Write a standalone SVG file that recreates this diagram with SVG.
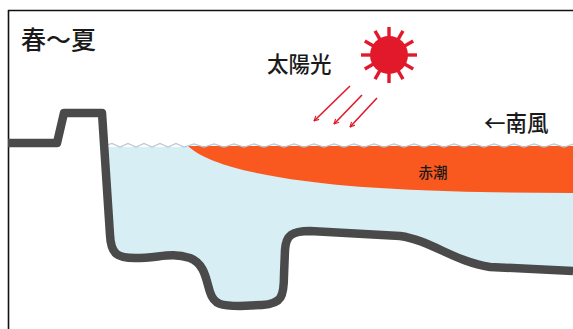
<svg xmlns="http://www.w3.org/2000/svg" width="573" height="329" viewBox="0 0 573 329">
  <style>
    .label { font-family: "Noto Sans CJK JP", "Noto Sans CJK SC", sans-serif; font-weight: 500; fill: #1a1a1a; }
    .ground { fill: none; stroke: #4a4a4a; stroke-width: 8.5; stroke-linejoin: round; stroke-linecap: butt; }
    .ray { stroke: #e2192b; stroke-width: 3.4; stroke-linecap: butt; }
    .beam { stroke: #e2192b; stroke-width: 1.6; fill: none; marker-end: url(#beamHead); }
  </style>
  <defs>
    <marker id="beamHead" viewBox="0 0 10 10" refX="9" refY="5" markerWidth="6" markerHeight="6" markerUnits="userSpaceOnUse" orient="auto">
      <path d="M1 1 L9 5 L1 9" fill="none" stroke="#e2192b" stroke-width="1.8"/>
    </marker>
  </defs>

  <rect width="573" height="329" fill="#ffffff"/>

  <!-- frame -->
  <g id="frame">
    <line x1="8" y1="10.5" x2="573" y2="10.5" stroke="#111" stroke-width="1.6"/>
    <line x1="8.5" y1="10" x2="8.5" y2="329" stroke="#111" stroke-width="1.6"/>
  </g>

  <!-- sea water -->
  <g id="water">
    <path fill="#d6eef4" d="M104 147 L573 147 L573 271 L490 267 C455 262 430 240 400 236 L310 231 C292 231 286 235 285 250 L284 275 C284 296 282 304 262 305 L240 306 C222 306 214 305 210 292 C206 280 205 264 190 258 C170 252 160 258 135 258 C118 258 111 255 110 235 L104.5 147 Z"/>
  </g>

  <!-- red tide layer -->
  <g id="red-tide">
    <path fill="#f9581e" d="M188 146 L573 146 L573 193 C470 193 370 190 305 181 C245 173 205 162 188 146 Z"/>
    <text class="label" x="433" y="178" font-size="14.5" text-anchor="middle">赤潮</text>
  </g>

  <!-- water surface ripples -->
  <g id="surface">
    <polyline fill="none" stroke="#b9c8d4" stroke-width="1.3" stroke-linejoin="miter"
      points="104,146 112,143.5 120,147 128,143.5 136,147 144,143.5 152,147 160,143.5 168,147 176,143.5 184,147 194,144 204,147 214,144 224,147 234,144 244,147 254,144 264,147 274,144 284,147 294,144 304,147 314,144 324,147 334,144 344,147 354,144 364,147 374,144 384,147 394,144 404,147 414,144 424,147 434,144 444,147 454,144 464,147 474,144 484,147 494,144 504,147 514,144 524,147 534,144 544,147 554,144 564,147 573,144"/>
  </g>

  <!-- ground / seabed profile -->
  <g id="seabed">
    <path class="ground" d="M8 143 H57 L64 113 H102 L110 235 C111 255 118 258 135 258 C160 258 170 252 190 258 C205 264 206 280 210 292 C214 305 222 306 240 306 L262 305 C282 304 284 296 284 275 L285 250 C286 235 292 231 310 231 L400 236 C430 240 455 262 490 267 L573 271"/>
  </g>

  <!-- sun -->
  <g id="sun">
    <circle cx="389" cy="55" r="19" fill="#e2192b"/>
    <g class="ray">
      <line x1="389" y1="38" x2="389" y2="27"/>
      <line x1="389" y1="72" x2="389" y2="83"/>
      <line x1="372" y1="55" x2="361" y2="55"/>
      <line x1="406" y1="55" x2="417" y2="55"/>
      <line x1="397.5" y1="40.3" x2="403" y2="30.8"/>
      <line x1="380.5" y1="69.7" x2="375" y2="79.2"/>
      <line x1="380.5" y1="40.3" x2="375" y2="30.8"/>
      <line x1="397.5" y1="69.7" x2="403" y2="79.2"/>
      <line x1="403.7" y1="46.5" x2="413.2" y2="41"/>
      <line x1="374.3" y1="63.5" x2="364.8" y2="69"/>
      <line x1="374.3" y1="46.5" x2="364.8" y2="41"/>
      <line x1="403.7" y1="63.5" x2="413.2" y2="69"/>
    </g>
  </g>

  <!-- sunlight beams -->
  <g id="connectors">
    <line class="beam" x1="350" y1="86" x2="314" y2="121"/>
    <line class="beam" x1="362" y1="95" x2="334" y2="124"/>
    <line class="beam" x1="377" y1="98" x2="350" y2="127"/>
  </g>

  <g id="title">
    <text class="label" x="21" y="49" font-size="25">春〜夏</text>
  </g>
  <g id="sunlight-label">
    <text class="label" x="267" y="72" font-size="21.5">太陽光</text>
  </g>
  <g id="wind-label">
    <text class="label" x="484" y="131" font-size="21.5">←南風</text>
  </g>
</svg>
